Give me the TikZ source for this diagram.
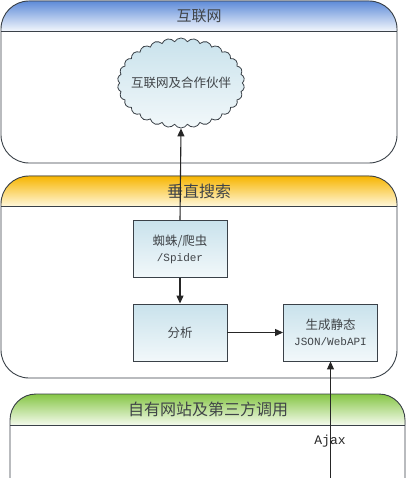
\documentclass[tikz,border=0pt]{standalone}
\usepackage{fontspec}
\setmainfont{Noto Sans CJK SC}
\newfontfamily\latinmono{Liberation Mono}
\usetikzlibrary{shapes.symbols,arrows.meta}
\definecolor{edge}{HTML}{3A4148}
\definecolor{txt}{HTML}{404448}
\definecolor{blueTop}{HTML}{5E8BD8}
\definecolor{blueBot}{HTML}{F2F6FC}
\definecolor{goldTop}{HTML}{F7B500}
\definecolor{goldBot}{HTML}{FFF7DA}
\definecolor{greenTop}{HTML}{86C646}
\definecolor{greenBot}{HTML}{F4FAEC}
\definecolor{boxTop}{HTML}{C9E2EC}
\definecolor{boxBot}{HTML}{F2F8FA}
\tikzset{
  panel/.style={draw=edge, line width=0.9pt},
  headline/.style={draw=edge, line width=0.9pt},
  headtext/.style={font=\fontsize{15}{17}\selectfont, text=txt},
  procbox/.style={draw=edge, line width=0.9pt, top color=boxTop, bottom color=boxBot,
    minimum width=94pt, minimum height=57pt, inner sep=0pt, align=center,
    font=\fontsize{12.5}{15}\selectfont, text=txt},
  flow/.style={draw=black!85, line width=1.1pt, -{Triangle[length=8pt,width=7pt]}},
}
\begin{document}
\begin{tikzpicture}[x=1pt,y=-1pt]
\useasboundingbox (0,0) rectangle (407,478);
\fill[white] (0,0) rectangle (407,478);
% ---------- top panel ----------
\fill[top color=blueTop, bottom color=blueBot]
  (1,31) [rounded corners=28pt] -- (1,1) -- (397,1) [sharp corners] -- (397,31) -- cycle;
\draw[panel, rounded corners=28pt] (1,1) rectangle (397,163);
\draw[headline] (1,31) -- (397,31);
\node[headtext] (h1) at (199,16) {互联网};
\node[cloud, cloud puffs=30, cloud puff arc=120, aspect=1.4, draw=edge, line width=0.8pt,
  top color=boxTop, bottom color=boxBot, minimum width=127pt, minimum height=90pt,
  inner sep=0pt] (cloud) at (181,83) {};
\node[font=\fontsize{12.5}{15}\selectfont, text=txt] (cloudtext) at (cloud.center) {互联网及合作伙伴};
% ---------- middle panel ----------
\fill[top color=goldTop, bottom color=goldBot]
  (1,206) [rounded corners=28pt] -- (1,176) -- (397,176) [sharp corners] -- (397,206) -- cycle;
\draw[panel, rounded corners=28pt] (1,176) rectangle (397,378);
\draw[headline] (1,206) -- (397,206);
\node[headtext, font=\fontsize{16}{18}\selectfont] (h2) at (199,191) {垂直搜索};
\node[procbox] (spider) at (180,249) {蜘蛛/爬虫\\[1pt]{\latinmono\fontsize{11}{13}\selectfont /Spider}};
\node[procbox] (ana) at (180,332.5) {分析};
\node[procbox] (json) at (330.5,332.5) {生成静态\\[1pt]{\latinmono\fontsize{11}{13}\selectfont JSON/WebAPI}};
% ---------- bottom panel ----------
\fill[top color=greenTop, bottom color=greenBot]
  (10,425) [rounded corners=26pt] -- (10,394) -- (405,394) [sharp corners] -- (405,425) -- cycle;
\draw[panel, rounded corners=26pt] (10,490) -- (10,394) -- (405,394) -- (405,490);
\draw[headline] (10,425) -- (405,425);
\node[headtext, font=\fontsize{16}{18}\selectfont] (h3) at (208,409) {自有网站及第三方调用};
% ---------- connectors ----------
\coordinate (src) at (330.5,478);
\draw[flow] (spider.north) -- (cloud.south);
\draw[flow] (spider.south) -- (ana.north);
\draw[flow] (ana.east) -- (json.west);
\draw[flow] (src) -- (json.south);
\node[font=\latinmono\fontsize{13}{15}\selectfont, text=black!85] (ajax) at (330,441) {Ajax};
\end{tikzpicture}
\end{document}
